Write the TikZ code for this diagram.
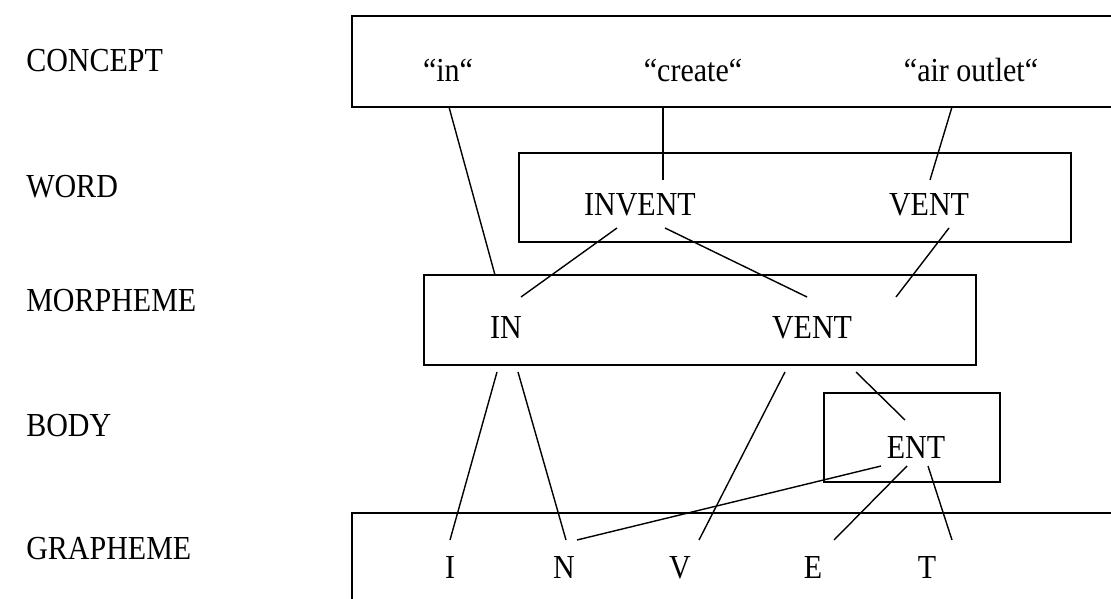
\documentclass[tikz,border=0pt]{standalone}
\usepackage{fontspec}
\setmainfont{Liberation Serif}
\newcommand{\tallt}[1]{\scalebox{1}[1.12]{#1}}
\begin{document}
\begin{tikzpicture}[x=0.75pt,y=-0.75pt,
  box/.style={draw, line width=1.4pt, inner sep=0pt, outer sep=0pt},
  txt/.style={anchor=base, inner sep=0pt, font=\fontsize{22.5}{27}\selectfont},
  link/.style={line width=1.05pt}]
\clip (0,0) rectangle (1111,599);
\useasboundingbox (0,0) rectangle (1111,599);
% level labels
\node[txt, anchor=base west] (lconcept) at (26,72) {\tallt{CONCEPT}};
\node[txt, anchor=base west] (lword) at (26,198) {\tallt{WORD}};
\node[txt, anchor=base west] (lmorph) at (26,311) {\tallt{MORPHEME}};
\node[txt, anchor=base west] (lbody) at (26,436) {\tallt{BODY}};
\node[txt, anchor=base west] (lgraph) at (26,559) {\tallt{GRAPHEME}};
% boxes
\node[box, minimum width=576pt, minimum height=68.25pt] (concept) at (736,61.5) {};
\node[box, minimum width=414pt, minimum height=66.75pt] (word) at (795,197.5) {};
\node[box, minimum width=414pt, minimum height=67.5pt] (morph) at (700,320) {};
\node[box, minimum width=132pt, minimum height=66.75pt] (body) at (912,437.5) {};
\node[box, minimum width=576pt, minimum height=80.25pt] (graph) at (736,566.5) {};
% texts
\node[txt] (cin) at (448,82) {\tallt{“in“}};
\node[txt] (ccreate) at (693,82) {\tallt{“create“}};
\node[txt] (cair) at (971,82) {\tallt{“air outlet“}};
\node[txt] (winvent) at (640,216) {\tallt{INVENT}};
\node[txt] (wvent) at (929,216) {\tallt{VENT}};
\node[txt] (min) at (506,338) {\tallt{IN}};
\node[txt] (mvent) at (812,338) {\tallt{VENT}};
\node[txt] (bent) at (916,458) {\tallt{ENT}};
\node[txt] (gi) at (450,578) {\tallt{I}};
\node[txt] (gn) at (564,578) {\tallt{N}};
\node[txt] (gv) at (680,578) {\tallt{V}};
\node[txt] (ge) at (813,578) {\tallt{E}};
\node[txt] (gt) at (927,578) {\tallt{T}};
% connector end points
\coordinate (a1) at (449,107); \coordinate (b1) at (495,275);
\coordinate (a2) at (663,107); \coordinate (b2) at (663,180);
\coordinate (a3) at (952,107); \coordinate (b3) at (930,180);
\coordinate (a4) at (617,228); \coordinate (b4) at (521,297);
\coordinate (a5) at (665,228); \coordinate (b5) at (807,297);
\coordinate (a6) at (949,228); \coordinate (b6) at (896,297);
\coordinate (a7) at (497,372); \coordinate (b7) at (450,540);
\coordinate (a8) at (518,372); \coordinate (b8) at (566,540);
\coordinate (a9) at (785,372); \coordinate (b9) at (699,540);
\coordinate (a10) at (856,372); \coordinate (b10) at (905,420);
\coordinate (a11) at (881,466); \coordinate (b11) at (577,540);
\coordinate (a12) at (907,466); \coordinate (b12) at (834,540);
\coordinate (a13) at (928,466); \coordinate (b13) at (952,540);
\foreach \i in {1,...,13} {\draw[link] (a\i) -- (b\i);}
\end{tikzpicture}
\end{document}
